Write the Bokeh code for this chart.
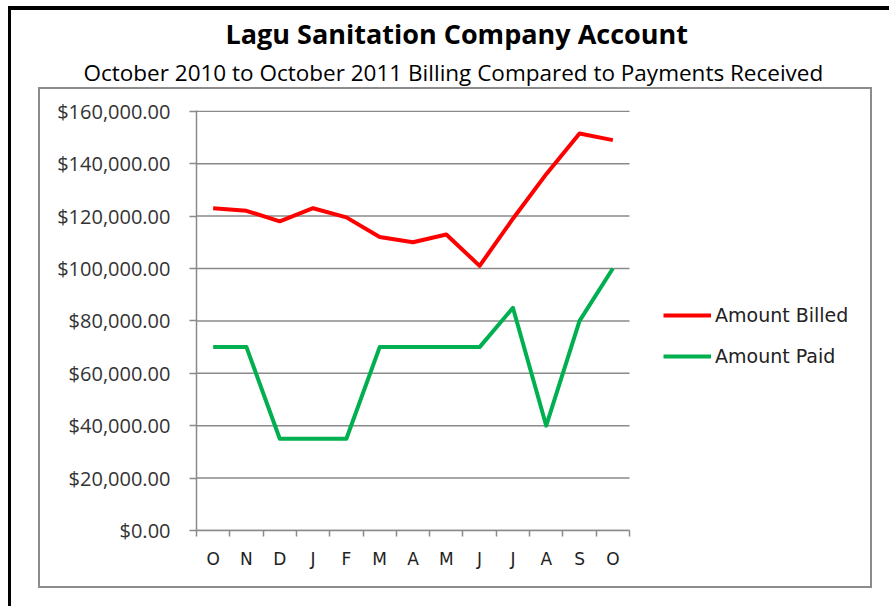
from bokeh.plotting import figure
from bokeh.models import (Range1d, FixedTicker, NumeralTickFormatter, Legend, LegendItem,
                          Title, InlineStyleSheet)
from bokeh.embed import file_html
from bokeh.resources import INLINE

# ---- data ----
months = ["O", "N", "D", "J", "F", "M", "A", "M", "J", "J", "A", "S", "O"]
amount_billed = [123000, 122000, 118000, 123000, 119500, 112000, 110000, 113000,
                 101000, 119000, 136000, 151500, 149000]
amount_paid = [70000, 70000, 35000, 35000, 35000, 70000, 70000, 70000,
               70000, 85000, 40000, 80000, 100000]
y_ticks = [0, 20000, 40000, 60000, 80000, 100000, 120000, 140000, 160000]
title_text = "Lagu Sanitation Company Account"
subtitle_text = "October 2010 to October 2011 Billing Compared to Payments Received"

n = len(months)
x_pos = [i + 0.5 for i in range(n)]
boundaries = list(range(n + 1))

# ---- geometry (pixels) ----
W, H = 889, 606
ml, mr, mt, mb = 196, 23, 110, 76       # frame borders; frame extends right to hold legend
plot_w = 433                            # width of the category area
frame_w = W - ml - mr
x_end = n * frame_w / plot_w

css = """
:host::before { content: ""; position: absolute; box-sizing: content-box;
  left: 8px; top: 6px; width: 878px; height: 596px;
  border-left: 3px solid black; border-top: 4px solid black;
  pointer-events: none; z-index: 10; }
:host::after { content: ""; position: absolute; box-sizing: content-box;
  left: 38px; top: 87px; width: 830px; height: 497px;
  border: 2px solid #8c8c8c; pointer-events: none; z-index: 10; }
"""

p = figure(width=W, height=H, output_backend="svg", toolbar_location=None,
           x_range=Range1d(0, x_end), y_range=Range1d(0, 160300),
           min_border_left=ml, min_border_right=mr, min_border_top=mt,
           min_border_bottom=mb, title=None,
           stylesheets=[InlineStyleSheet(css=css)])
p.outline_line_color = None

grey = "#8a8a8a"
# horizontal gridlines limited to the category area
p.segment(x0=[0] * len(y_ticks), x1=[n] * len(y_ticks), y0=y_ticks, y1=y_ticks,
          line_color=grey, line_width=1.5)
p.grid.grid_line_color = None

p.yaxis.ticker = FixedTicker(ticks=y_ticks)
p.yaxis.formatter = NumeralTickFormatter(format="$0,0.00")
p.yaxis.axis_line_color = grey
p.yaxis.axis_line_width = 1.5
p.yaxis.major_tick_line_color = grey
p.yaxis.major_tick_line_width = 1.5
p.yaxis.major_tick_out = 7
p.yaxis.major_tick_in = 0
p.yaxis.minor_tick_line_color = None
p.yaxis.major_label_standoff = 19
p.yaxis.major_label_text_font = "Open Sans"
p.yaxis.major_label_text_font_size = "20px"
p.yaxis.major_label_text_color = "#333333"

p.xaxis.bounds = (0, n)
p.xaxis.ticker = FixedTicker(ticks=x_pos, minor_ticks=boundaries)
p.xaxis.major_label_overrides = {x: m for x, m in zip(x_pos, months)}
p.xaxis.axis_line_color = grey
p.xaxis.axis_line_width = 1.5
p.xaxis.major_tick_line_color = None
p.xaxis.major_tick_out = 0
p.xaxis.major_tick_in = 0
p.xaxis.minor_tick_line_color = grey
p.xaxis.minor_tick_line_width = 1.5
p.xaxis.minor_tick_out = 6
p.xaxis.minor_tick_in = 0
p.xaxis.major_label_standoff = 12
p.xaxis.major_label_text_font = "DejaVu Sans"
p.xaxis.major_label_text_font_size = "17px"
p.xaxis.major_label_text_color = "#222222"

r1 = p.line(x_pos, amount_billed, line_color="#ff0000", line_width=4, line_join="round")
r2 = p.line(x_pos, amount_paid, line_color="#00b050", line_width=4, line_join="round")

legend = Legend(items=[LegendItem(label="Amount Billed", renderers=[r1]),
                       LegendItem(label="Amount Paid", renderers=[r2])],
                location=(467, 163), glyph_width=48, glyph_height=22,
                label_height=22, label_standoff=4, spacing=19, padding=0, margin=0,
                border_line_color=None, background_fill_alpha=0,
                label_text_font="DejaVu Sans", label_text_font_size="19px",
                label_text_color="#222222")
p.add_layout(legend, "center")

# titles (first added sits closest to the plot)
p.add_layout(Title(text=subtitle_text, align="left", offset=-113, standoff=45,
                   text_font="Open Sans", text_font_style="normal",
                   text_font_size="22.5px", text_color="black"), "above")
p.add_layout(Title(text=title_text, align="left", offset=29, standoff=-39,
                   text_font="Open Sans", text_font_style="bold",
                   text_font_size="27px", text_color="black"), "above")

open("out.html", "w").write(file_html(p, INLINE))
